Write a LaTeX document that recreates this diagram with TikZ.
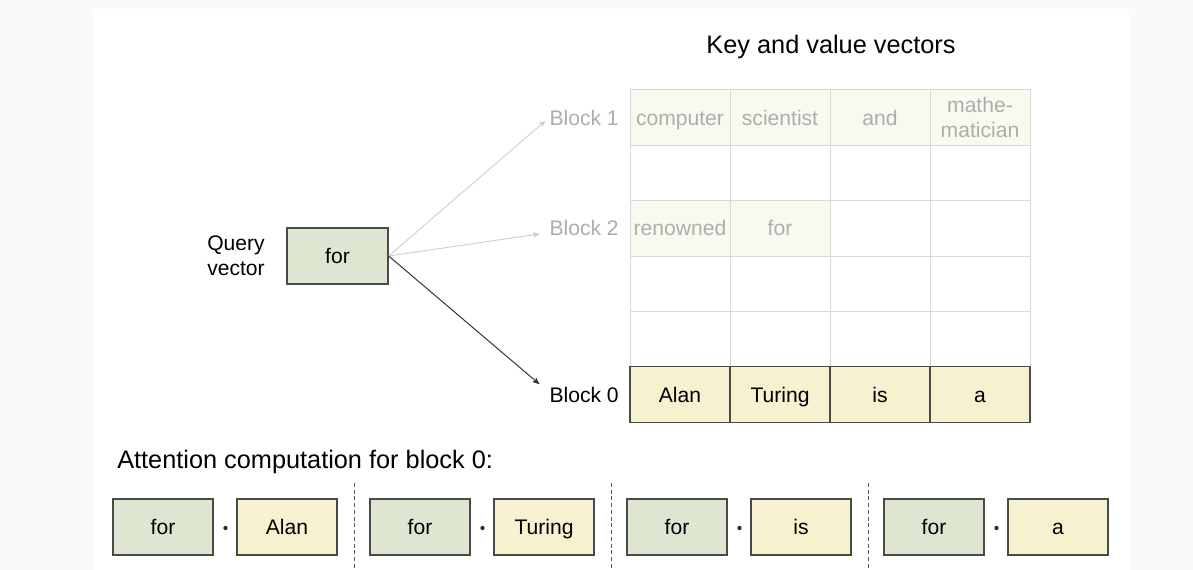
\documentclass[tikz,border=0pt]{standalone}
\usepackage{fontspec}
\setmainfont{Liberation Sans}
\usetikzlibrary{arrows}
\usetikzlibrary{positioning}
\definecolor{qgreen}{HTML}{DEE6D2}
\definecolor{kyellow}{HTML}{F6F1CF}
\definecolor{fadeyellow}{HTML}{FAF9EF}
\definecolor{fadetext}{HTML}{ADADAD}
\definecolor{gridgray}{HTML}{D8D8D8}
\definecolor{boxline}{HTML}{4A4A4A}
\definecolor{pagegray}{HTML}{FAFAFA}

\begin{document}
\begin{tikzpicture}[x=0.025cm,y=-0.025cm,>=stealth',font=\fontsize{15}{18}\selectfont,
    cell/.style={rectangle,draw=gridgray,line width=0.6pt,minimum width=2.5cm,minimum height=1.385cm,inner sep=0pt,align=center},
    word/.style={text height=10.7pt,text depth=0pt},
    faded/.style={cell,fill=fadeyellow,text=fadetext},
    key node/.style={cell,word,draw=boxline,fill=kyellow,line width=0.9pt,minimum height=1.4cm},
    query node/.style={key node,fill=qgreen},
    label node/.style={anchor=east,inner sep=0pt},
    big/.style={font=\fontsize{18}{21}\selectfont}]
  \useasboundingbox (0,0) rectangle (1193,570);
  \fill[pagegray] (0,0) rectangle (1193,570);
  \fill[white] (93,9) rectangle (1129,570);

  % empty grid of key/value slots
  \foreach \r in {1,...,6}
    \foreach \c in {1,...,4}
      \node[cell] (g\r\c) at ({580+100*\c},{62.1+55.4*\r}) {};

  % block 1
  \node[faded,word] (k11) at (g11) {computer};
  \node[faded,word] (k12) at (g12) {scientist};
  \node[faded,word] (k13) at (g13) {and};
  \node[faded] (k14) at (g14) {mathe-\\matician};
  % block 2
  \node[faded,word] (k31) at (g31) {renowned};
  \node[faded,word] (k32) at (g32) {for};
  % block 0
  \node[key node] (k61) at (g61) {Alan};
  \node[key node] (k62) at (g62) {Turing};
  \node[key node] (k63) at (g63) {is};
  \node[key node] (k64) at (g64) {a};

  \node[big] (kt) at (831,47) {Key and value vectors};
  \node[label node,word,text=fadetext] (b1) at (619,118) {Block 1};
  \node[label node,word,text=fadetext] (b2) at (619,228) {Block 2};
  \node[label node,word] (b0) at (619,395) {Block 0};

  \node[query node,minimum width=2.525cm] (q) at (337.5,256) {for};
  \node[align=center,inner sep=0pt] (ql) at (236,256) {Query\\vector};

  \draw[->,gray!40,line width=0.6pt] (q.east) -- ([shift={(-4,3)}]b1.west);
  \draw[->,gray!40,line width=0.6pt] (q.east) -- ([shift={(-10,6)}]b2.west);
  \draw[->,black!80,line width=0.7pt] (q.east) -- ([shift={(-10,-11)}]b0.west);

  % dot products for block 0
  \node[big,anchor=west,inner sep=0pt] (at) at (117,462) {Attention computation for block 0:};
  \foreach \i/\w in {0/Alan,1/Turing,2/is,3/a} {
    \node[query node] (p\i) at ({163+257*\i},527) {for};
    \node[key node] (v\i) at ({287+257*\i},527) {\w};
    \node[circle,fill=black!85,inner sep=0pt,minimum size=3pt] (d\i) at ({225.5+257*\i},528) {};
  }
  \foreach \i in {0,1,2}
    \draw[black!65,line width=0.6pt,dash pattern=on 2.8pt off 2pt] ({354+257*\i},483) -- ({354+257*\i},570);
\end{tikzpicture}
\end{document}
